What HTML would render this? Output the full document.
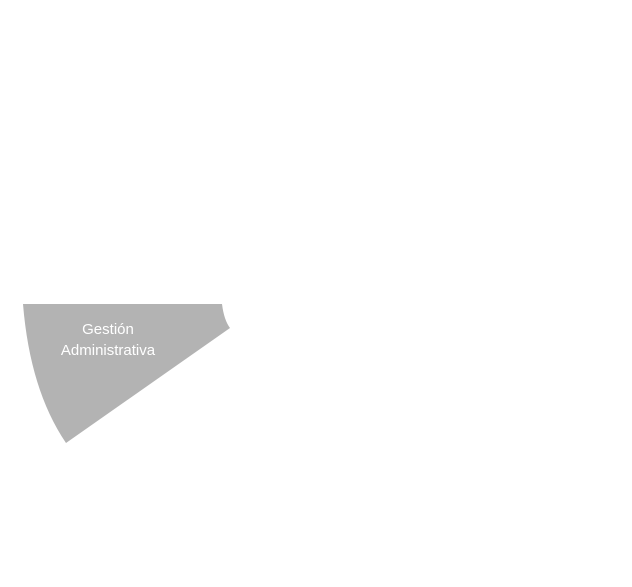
<!DOCTYPE html>
<html><head><style>
html,body{margin:0;padding:0;background:#fff;width:632px;height:587px;overflow:hidden}
</style></head><body>
<svg width="632" height="587" xmlns="http://www.w3.org/2000/svg" style="position:absolute;left:0;top:0">
<path d="M23,304 L222,304 Q224,320 230,328 L66,443 Q30,390 23,304 Z" fill="#b3b3b3"/>
<text x="108" y="334" fill="#fff" font-family="Liberation Sans, sans-serif" font-size="15" text-anchor="middle">Gestión</text>
<text x="108" y="355" fill="#fff" font-family="Liberation Sans, sans-serif" font-size="15" text-anchor="middle">Administrativa</text>
</svg>
</body></html>
